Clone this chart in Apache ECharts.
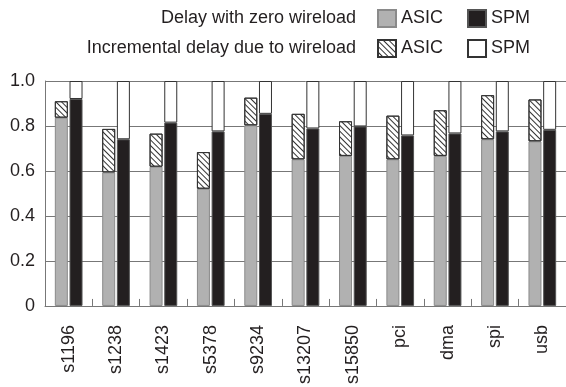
<!DOCTYPE html>
<html>
<head>
<meta charset="utf-8">
<script src="https://cdn.jsdelivr.net/npm/echarts@6/dist/echarts.min.js"></script>
<style>
html,body{margin:0;padding:0;background:#fff;}
#c{width:566px;height:387px;}
</style>
</head>
<body>
<div id="c"></div>
<script>
var categories = ['s1196','s1238','s1423','s5378','s9234','s13207','s15850','pci','dma','spi','usb'];
var asicZero  = [0.837,0.594,0.619,0.521,0.803,0.652,0.667,0.652,0.667,0.741,0.732];
var asicTotal = [0.910,0.787,0.766,0.684,0.926,0.854,0.821,0.846,0.870,0.937,0.918];
var spmZero   = [0.920,0.741,0.815,0.776,0.854,0.789,0.798,0.758,0.767,0.776,0.783];
var spmTotal  = [1.0,1.0,1.0,1.0,1.0,1.0,1.0,1.0,1.0,1.0,1.0];
var yTicks = [0, 0.2, 0.4, 0.6, 0.8, 1.0];

var asicInc = asicTotal.map(function(v,i){return +(v - asicZero[i]).toFixed(3);});
var spmInc = spmTotal.map(function(v,i){return +(v - spmZero[i]).toFixed(3);});

var FONT = 'Liberation Sans, Arial, Helvetica, sans-serif';
var TXT = '#231f20';

var chart = echarts.init(document.getElementById('c'), null, {renderer:'canvas'});
var hatch = {
  symbol: 'rect',
  symbolSize: 1,
  color: '#333',
  dashArrayX: [1, 0],
  dashArrayY: [1, 3],
  rotation: Math.PI / 4
};
chart.setOption({
  animation: false,
  backgroundColor: '#fff',
  textStyle: {fontFamily: FONT},
  graphic: [
    {type:'text', x:356, y:18, style:{text:'Delay with zero wireload', align:'right', verticalAlign:'middle', font:'18px ' + FONT, fill:TXT}},
    {type:'text', x:356, y:48, style:{text:'Incremental delay due to wireload', align:'right', verticalAlign:'middle', font:'18px ' + FONT, fill:TXT}}
  ],
  legend: [
    {
      data: ['ASIC zero', 'SPM zero'],
      left: 377, top: 9, padding: 0,
      itemWidth: 18, itemHeight: 17, itemGap: 24,
      icon: 'rect',
      formatter: function(n){ return n.split(' ')[0]; },
      textStyle: {fontSize: 18, color: TXT, fontFamily: FONT},
      selectedMode: false
    },
    {
      data: ['ASIC inc', 'SPM inc'],
      left: 377, top: 39, padding: 0,
      itemWidth: 18, itemHeight: 17, itemGap: 24,
      icon: 'rect',
      formatter: function(n){ return n.split(' ')[0]; },
      textStyle: {fontSize: 18, color: TXT, fontFamily: FONT},
      selectedMode: false
    }
  ],
  grid: {left: 45, top: 81, width: 524, height: 229, containLabel: false},
  xAxis: {
    type: 'category',
    data: categories,
    axisLine: {lineStyle: {color: '#777', width: 1}},
    axisTick: {show: true, inside: true, length: 7, lineStyle: {color: '#777'}},
    axisLabel: {rotate: 90, margin: 19, interval: 0, fontSize: 18, color: TXT, fontFamily: FONT},
    splitLine: {show: false}
  },
  yAxis: {
    type: 'value',
    min: 0, max: 1, interval: 0.2,
    axisLine: {show: true, lineStyle: {color: '#777', width: 1}},
    axisTick: {show: false},
    axisLabel: {
      fontSize: 18, color: TXT, margin: 10, fontFamily: FONT,
      formatter: function(v){ return v === 0 ? '0' : v.toFixed(1); }
    },
    splitLine: {show: true, lineStyle: {color: '#777', width: 1}}
  },
  series: [
    {name:'ASIC zero', type:'bar', stack:'asic', data: asicZero, barWidth: 13, barGap: '13%',
     itemStyle:{color:'#b1b1b1', borderColor:'#8a8a8a', borderWidth:1}},
    {name:'ASIC inc', type:'bar', stack:'asic', data: asicInc, barWidth: 13,
     itemStyle:{color:'#fff', borderColor:'#333', borderWidth:1, decal: hatch}},
    {name:'SPM zero', type:'bar', stack:'spm', data: spmZero, barWidth: 13,
     itemStyle:{color:'#231f20', borderColor:'#555', borderWidth:1}},
    {name:'SPM inc', type:'bar', stack:'spm', data: spmInc, barWidth: 13,
     itemStyle:{color:'#fff', borderColor:'#333', borderWidth:1}}
  ]
});
</script>
</body>
</html>
